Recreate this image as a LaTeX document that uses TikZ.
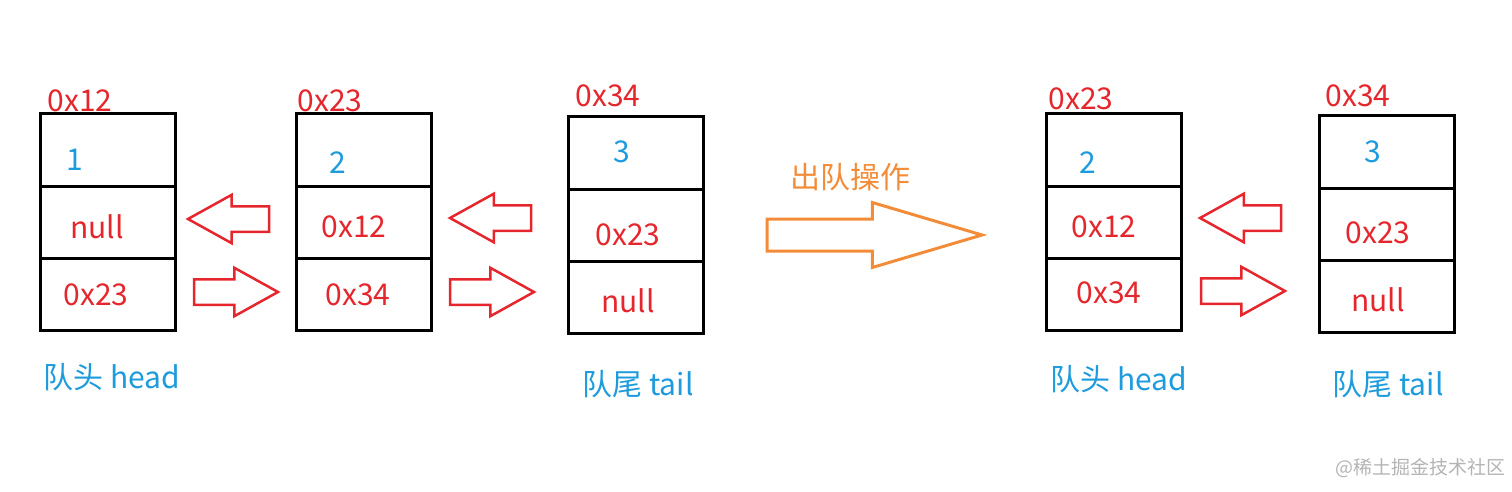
\documentclass[tikz,border=0pt]{standalone}
\usepackage{fontspec}
\setmainfont{Noto Sans CJK SC}
\usetikzlibrary{positioning,shapes.arrows}
\definecolor{addrred}{HTML}{E5262C}
\definecolor{valblue}{HTML}{1E9BDC}
\definecolor{oporange}{HTML}{F28C38}
\definecolor{markgray}{HTML}{B4B4B4}

\begin{document}
\begin{tikzpicture}[x=1pt, y=-1pt,
  cell/.style={draw, line width=3pt, minimum width=135pt, minimum height=72pt, inner sep=0pt, outer sep=0pt},
  txt/.style={anchor=base, inner sep=0pt, font=\fontsize{30}{36}\selectfont},
  addr/.style={txt, text=addrred},
  val/.style={txt, text=valblue},
  lbl/.style={txt, text=valblue},
  blockarr/.style={single arrow, draw=addrred, line width=2.5pt, minimum width=46pt, single arrow head extend=11.5pt, single arrow tip angle=58, inner xsep=0pt, inner ysep=11.5pt, outer sep=0pt, anchor=tip},
  backarr/.style={blockarr, shape border rotate=180, minimum height=81pt},
  fwdarr/.style={blockarr, minimum height=84pt},
  oparr/.style={single arrow, draw=oporange, line width=3pt, minimum height=215pt, minimum width=62pt, single arrow head extend=16.5pt, single arrow tip angle=33, inner xsep=0pt, inner ysep=14.5pt, outer sep=0pt, anchor=tip}
]
  \useasboundingbox (0,0) rectangle (1512,492);

  % queue before
  \node[cell, anchor=north west] (a12top) at (40,114) {};
  \node[cell, below=0pt of a12top] (a12mid) {};
  \node[cell, below=0pt of a12mid] (a12bot) {};
  \node[addr] (a12) at (80,112) {0x12};
  \node[val] (a12v) at (75,170) {1};
  \node[addr] (a12p) at (97,238) {null};
  \node[addr] (a12n) at (96,305) {0x23};

  \node[cell, anchor=north west] (a23top) at (296,114) {};
  \node[cell, below=0pt of a23top] (a23mid) {};
  \node[cell, below=0pt of a23mid] (a23bot) {};
  \node[addr] (a23) at (330,112) {0x23};
  \node[val] (a23v) at (338,173) {2};
  \node[addr] (a23p) at (354,237) {0x12};
  \node[addr] (a23n) at (358,305) {0x34};

  \node[cell, anchor=north west] (a34top) at (568,117) {};
  \node[cell, below=0pt of a34top] (a34mid) {};
  \node[cell, below=0pt of a34mid] (a34bot) {};
  \node[addr] (a34) at (608,107) {0x34};
  \node[val] (a34v) at (622,162) {3};
  \node[addr] (a34p) at (628,245) {0x23};
  \node[addr] (a34n) at (628,312) {null};

  \node[backarr] (a23to12) at (188,219) {};
  \node[fwdarr] (a12to23) at (278,292) {};
  \node[backarr] (a34to23) at (450,218) {};
  \node[fwdarr] (a23to34) at (534,292) {};

  \node[lbl] (ahead) at (112,388) {队头 head};
  \node[lbl] (atail) at (638,395) {队尾 tail};

  % dequeue
  \node[oparr] (deq) at (982,235) {};
  \node[txt, text=oporange] (deqlbl) at (850,188) {出队操作};

  % queue after
  \node[cell, anchor=north west] (b23top) at (1046,114) {};
  \node[cell, below=0pt of b23top] (b23mid) {};
  \node[cell, below=0pt of b23mid] (b23bot) {};
  \node[addr] (b23) at (1081,110) {0x23};
  \node[val] (b23v) at (1088,173) {2};
  \node[addr] (b23p) at (1104,237) {0x12};
  \node[addr] (b23n) at (1109,303) {0x34};

  \node[cell, anchor=north west] (b34top) at (1319,116) {};
  \node[cell, below=0pt of b34top] (b34mid) {};
  \node[cell, below=0pt of b34mid] (b34bot) {};
  \node[addr] (b34) at (1358,107) {0x34};
  \node[val] (b34v) at (1373,162) {3};
  \node[addr] (b34p) at (1378,243) {0x23};
  \node[addr] (b34n) at (1378,311) {null};

  \node[backarr] (b34to23) at (1200,218) {};
  \node[fwdarr] (b23to34) at (1285,291) {};

  \node[lbl] (bhead) at (1119,390) {队头 head};
  \node[lbl] (btail) at (1388,395) {队尾 tail};

  \node[anchor=base west, inner sep=0pt, text=markgray, font=\fontsize{19}{22}\selectfont] (mark) at (1335,474) {@稀土掘金技术社区};
\end{tikzpicture}
\end{document}
